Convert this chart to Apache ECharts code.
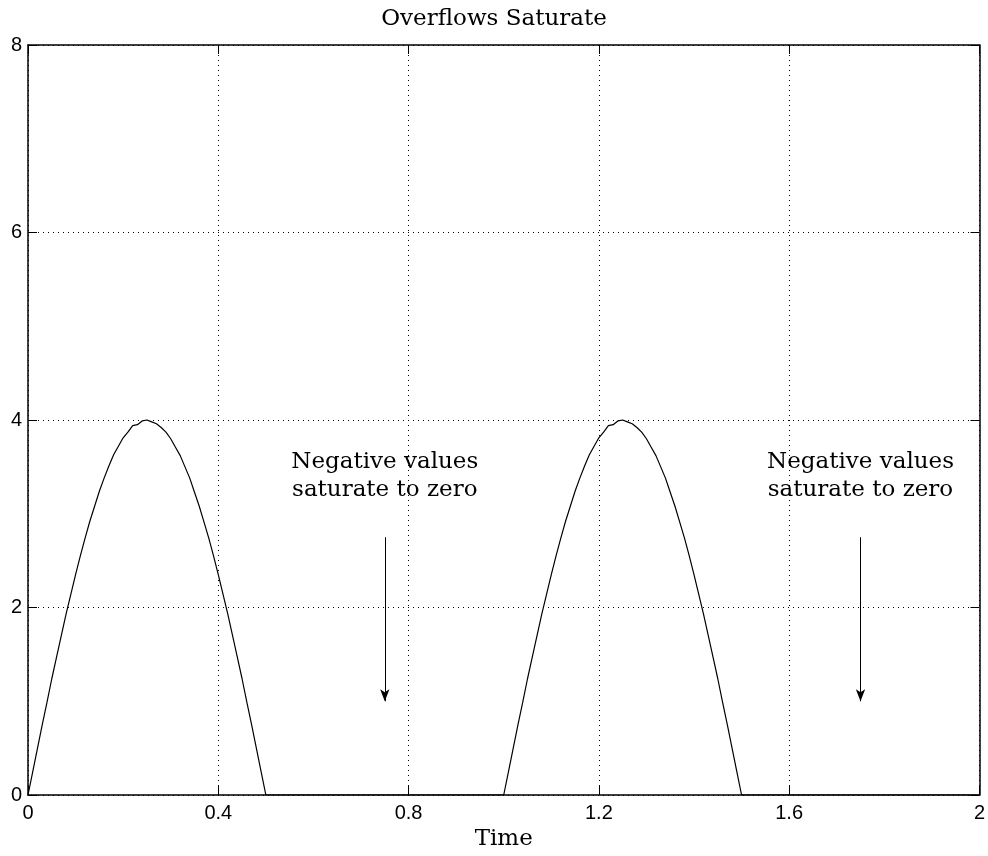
<!DOCTYPE html>
<html>
<head>
<meta charset="utf-8">
<script src="https://cdn.jsdelivr.net/npm/echarts@6/dist/echarts.min.js"></script>
<style>
  html, body { margin: 0; padding: 0; background: #fff; }
  #chart { width: 988px; height: 856px; }
</style>
</head>
<body>
<div id="chart"></div>
<script>
// ---- data ----
var titleText = 'Overflows Saturate';
var xLabel = 'Time';
var xTicks = [0, 0.4, 0.8, 1.2, 1.6, 2];
var yTicks = [0, 2, 4, 6, 8];

var time = [
  0.00, 0.01, 0.02, 0.03, 0.04, 0.05, 0.06, 0.07, 0.08, 0.09,
  0.10, 0.11, 0.12, 0.13, 0.14, 0.15, 0.16, 0.17, 0.18, 0.19,
  0.20, 0.21, 0.22, 0.23, 0.24, 0.25, 0.26, 0.27, 0.28, 0.29,
  0.30, 0.31, 0.32, 0.33, 0.34, 0.35, 0.36, 0.37, 0.38, 0.39,
  0.40, 0.41, 0.42, 0.43, 0.44, 0.45, 0.46, 0.47, 0.48, 0.49,
  0.50, 1.00,
  1.01, 1.02, 1.03, 1.04, 1.05, 1.06, 1.07, 1.08, 1.09,
  1.10, 1.11, 1.12, 1.13, 1.14, 1.15, 1.16, 1.17, 1.18, 1.19,
  1.20, 1.21, 1.22, 1.23, 1.24, 1.25, 1.26, 1.27, 1.28, 1.29,
  1.30, 1.31, 1.32, 1.33, 1.34, 1.35, 1.36, 1.37, 1.38, 1.39,
  1.40, 1.41, 1.42, 1.43, 1.44, 1.45, 1.46, 1.47, 1.48, 1.49,
  1.50, 2.00
];
var output = [
  0.00, 0.25, 0.50, 0.75, 0.99, 1.24, 1.47, 1.70, 1.93, 2.14,
  2.35, 2.55, 2.74, 2.92, 3.08, 3.24, 3.38, 3.51, 3.63, 3.72,
  3.81, 3.87, 3.94, 3.95, 3.99, 4.00, 3.98, 3.96, 3.92, 3.87,
  3.80, 3.71, 3.62, 3.50, 3.38, 3.23, 3.08, 2.91, 2.74, 2.55,
  2.35, 2.14, 1.93, 1.70, 1.47, 1.24, 0.99, 0.75, 0.50, 0.25,
  0.00, 0.00,
  0.25, 0.50, 0.75, 0.99, 1.24, 1.47, 1.70, 1.93, 2.14,
  2.35, 2.55, 2.74, 2.92, 3.08, 3.24, 3.38, 3.51, 3.63, 3.72,
  3.81, 3.87, 3.94, 3.95, 3.99, 4.00, 3.98, 3.96, 3.92, 3.87,
  3.80, 3.71, 3.62, 3.50, 3.38, 3.23, 3.08, 2.91, 2.74, 2.55,
  2.35, 2.14, 1.93, 1.70, 1.47, 1.24, 0.99, 0.75, 0.50, 0.25,
  0.00, 0.00
];

var noteText = ['Negative values', 'saturate to zero'];
var noteX = [0.75, 1.75];
var noteY = 3.4;
var arrowX = [0.75, 1.75];
var arrowFrom = 2.75;
var arrowTo = 1.0;

// ---- chart ----
var serif = '"DejaVu Serif", "Liberation Serif", serif';
var sans = '"Liberation Sans", Arial, sans-serif';

var chart = echarts.init(document.getElementById('chart'), null, { renderer: 'canvas' });

var seriesData = time.map(function (t, i) { return [t, output[i]]; });

var arrowLines = arrowX.map(function (x) {
  return [
    { coord: [x, arrowFrom], symbol: 'none' },
    { coord: [x, arrowTo], symbol: 'arrow' }
  ];
});

var notePoints = noteX.map(function (x) {
  return { coord: [x, noteY], value: noteText.join('\n') };
});

var gridBox = { left: 28, right: 7, top: 45, bottom: 60 };

var axisCommon = {
  min: 0,
  axisLine: { show: true, onZero: false, lineStyle: { color: '#000', width: 1.5 } },
  axisTick: { show: true, inside: true, length: 9, lineStyle: { color: '#000', width: 1 } }
};

var option = {
  backgroundColor: '#fff',
  animation: false,
  title: {
    text: titleText,
    left: 'center',
    top: 3,
    textStyle: { fontFamily: serif, fontWeight: 'normal', fontSize: 23, color: '#000' }
  },
  grid: gridBox,
  xAxis: [
    Object.assign({}, axisCommon, {
      type: 'value', position: 'bottom', max: 2, interval: 0.4,
      name: xLabel, nameLocation: 'middle', nameGap: 33,
      nameTextStyle: { fontFamily: serif, fontSize: 23, color: '#000' },
      axisLabel: {
        fontFamily: sans, fontSize: 20, color: '#000', margin: 8,
        formatter: function (v) { return xTicks.indexOf(Math.round(v * 10) / 10) >= 0 ? String(Math.round(v * 10) / 10) : ''; }
      },
      splitLine: { show: true, lineStyle: { color: '#000', type: [1, 4], width: 1 } }
    }),
    Object.assign({}, axisCommon, {
      type: 'value', position: 'top', max: 2, interval: 0.4,
      axisLabel: { show: false },
      splitLine: { show: false }
    })
  ],
  yAxis: [
    Object.assign({}, axisCommon, {
      type: 'value', position: 'left', max: 8, interval: 2,
      axisLabel: {
        fontFamily: sans, fontSize: 20, color: '#000', margin: 6,
        formatter: function (v) { return yTicks.indexOf(v) >= 0 ? String(v) : ''; }
      },
      splitLine: { show: true, lineStyle: { color: '#000', type: [1, 4], width: 1 } }
    }),
    Object.assign({}, axisCommon, {
      type: 'value', position: 'right', max: 8, interval: 2,
      axisLabel: { show: false },
      splitLine: { show: false }
    })
  ],
  series: [
    {
      type: 'line',
      data: seriesData,
      xAxisIndex: 0,
      yAxisIndex: 0,
      showSymbol: false,
      symbol: 'none',
      lineStyle: { color: '#000', width: 1.2 },
      z: 3,
      markLine: {
        silent: true,
        symbolSize: [7, 12],
        lineStyle: { color: '#000', width: 1, type: 'solid' },
        label: { show: false },
        data: arrowLines
      },
      markPoint: {
        silent: true,
        symbol: 'rect',
        symbolSize: 1,
        itemStyle: { color: 'rgba(0,0,0,0)' },
        label: {
          show: true,
          position: 'inside',
          formatter: function (p) { return p.value; },
          fontFamily: serif,
          fontSize: 23,
          lineHeight: 28,
          color: '#000',
          align: 'center'
        },
        data: notePoints
      }
    }
  ]
};

chart.setOption(option);
</script>
</body>
</html>
